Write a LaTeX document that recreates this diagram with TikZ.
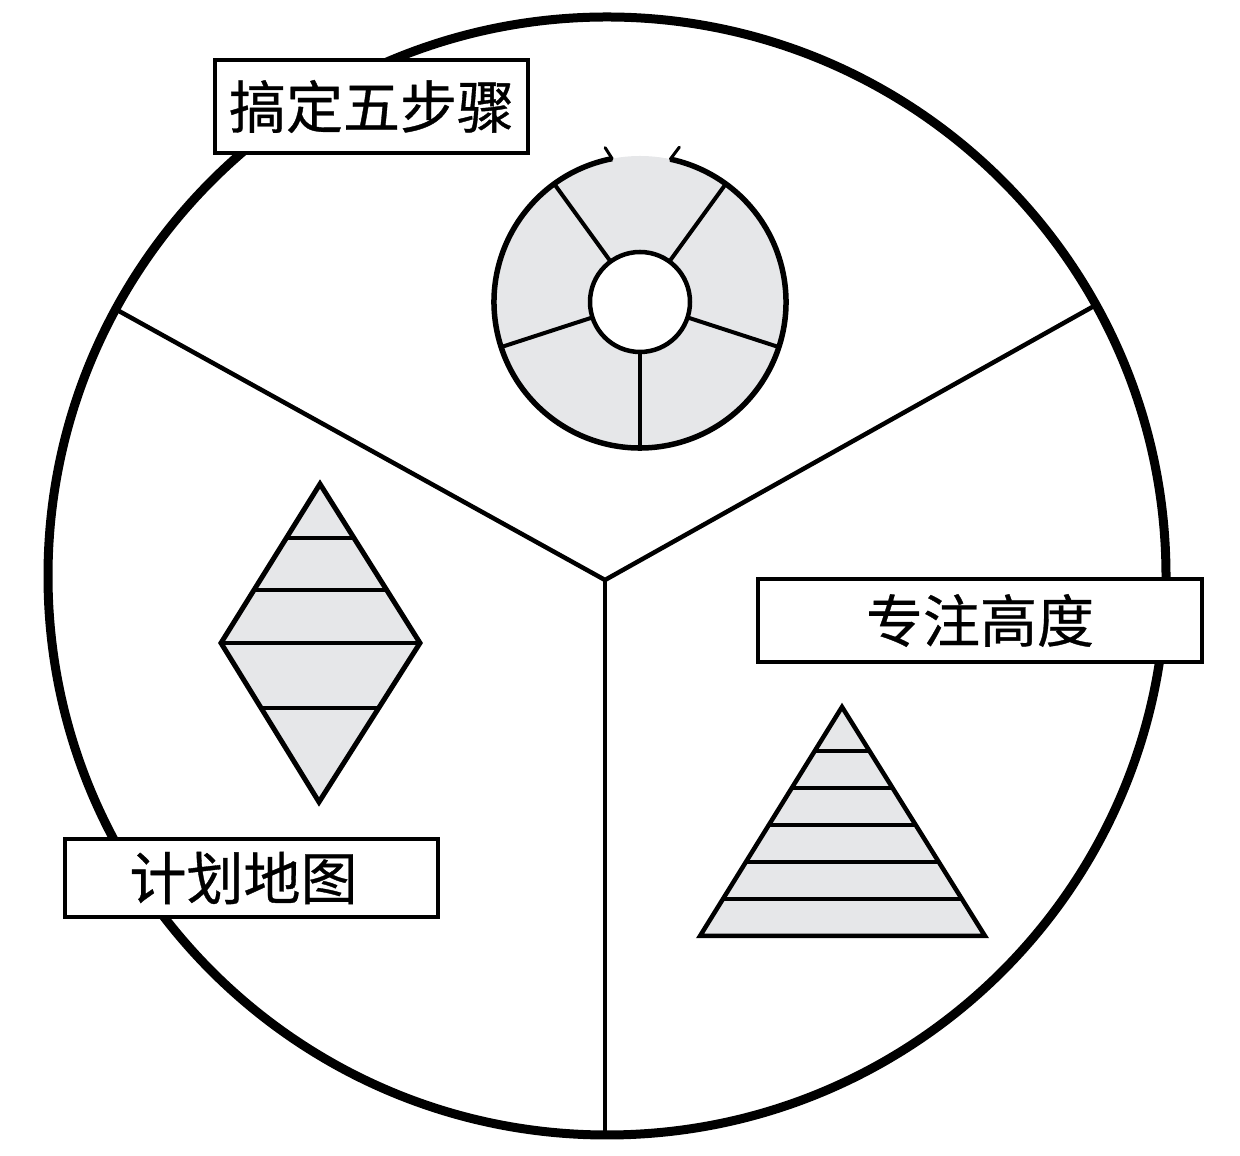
\documentclass[tikz,border=0pt]{standalone}
\usepackage{fontspec}
\newfontfamily\cjk[FakeBold=0.6]{Noto Sans CJK SC}
\definecolor{lightfill}{RGB}{230,231,233}
\begin{document}
\begin{tikzpicture}[x=1pt,y=1pt,
  bigring/.style={line width=9pt},
  divider/.style={line width=4.5pt, line join=miter, line cap=round},
  labelbox/.style={draw, fill=white, line width=4pt, inner sep=0pt,
    font=\cjk\fontsize{57}{60}\selectfont},
  shapeline/.style={line width=5pt, line join=miter},
  stripe/.style={line width=4pt},
  spoke/.style={line width=4pt}]
\useasboundingbox (0,0) rectangle (1240,1156);
% outer circle
\coordinate (O) at (607,580);
\draw[bigring] (O) circle (559);
% dividers
\coordinate (J) at (605,576);
\coordinate (L) at ([shift={(151.5:557)}]O);
\coordinate (R) at ([shift={(29:557)}]O);
\coordinate (B) at (605,23);
\draw[divider] (L) -- (J) -- (R);
\draw[divider] (J) -- (B);
% donut
\coordinate (D) at (640,854);
\fill[lightfill, even odd rule] (D) circle (146) (D) circle (50);
\foreach \a in {54,126,198,270,342}
  \draw[spoke] ([shift={(\a:50)}]D) -- ([shift={(\a:146)}]D);
\draw[line width=5.5pt] ([shift={(101:146)}]D) arc[start angle=101, end angle=438, radius=146];
\coordinate (gapL) at ([shift={(101:146)}]D);
\coordinate (gapR) at ([shift={(78:146)}]D);
\draw[line width=3pt, line cap=round] (gapL) -- ++(-7,11);
\draw[line width=3pt, line cap=round] (gapR) -- ++(9,12);
\draw[line width=4.5pt, fill=white] (D) circle (50);
% diamond
\coordinate (dT) at (320,672);
\coordinate (dR) at (420,513);
\coordinate (dB) at (319,354);
\coordinate (dL) at (221,513);
\fill[lightfill] (dT) -- (dR) -- (dB) -- (dL) -- cycle;
\begin{scope}
  \clip (dT) -- (dR) -- (dB) -- (dL) -- cycle;
  \foreach \y in {618,566,513,448} \draw[stripe] (200,\y) -- (440,\y);
\end{scope}
\draw[shapeline] (dT) -- (dR) -- (dB) -- (dL) -- cycle;
% triangle
\coordinate (tA) at (842,449);
\coordinate (tL) at (700,220);
\coordinate (tR) at (985,220);
\fill[lightfill] (tA) -- (tR) -- (tL) -- cycle;
\begin{scope}
  \clip (tA) -- (tR) -- (tL) -- cycle;
  \foreach \y in {405,368,331,294,257} \draw[stripe] (680,\y) -- (1000,\y);
\end{scope}
\draw[shapeline, line width=4.5pt] (tA) -- (tR) -- (tL) -- cycle;
% label boxes
\node[labelbox, minimum width=313pt, minimum height=93pt] (steps) at (371.5,1049.5) {搞定五步骤};
\node[labelbox, minimum width=444pt, minimum height=83pt] (focus) at (980,535.5) {专注高度};
\node[labelbox, minimum width=373pt, minimum height=78pt] (map) at (251.5,278) {\hspace*{-16pt}计划地图};
\end{tikzpicture}
\end{document}
